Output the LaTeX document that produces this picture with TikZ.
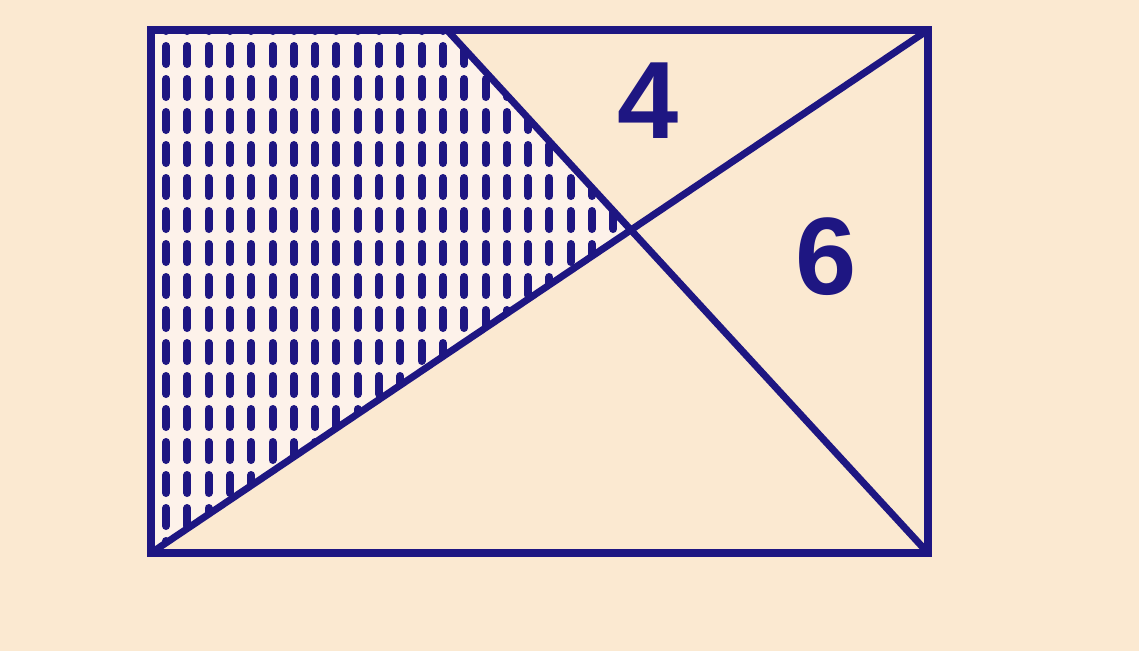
\documentclass[tikz,border=0pt]{standalone}
\usepackage{fontspec}
\setmainfont{Liberation Sans}
\definecolor{bg}{RGB}{251,233,209}
\definecolor{hatchbg}{RGB}{253,242,234}
\definecolor{ink}{RGB}{30,22,130}
\tikzset{
  edge/.style={draw=ink, line width=8pt, line cap=round, line join=miter},
  diag/.style={draw=ink, line width=7pt, line cap=round},
  hatchline/.style={draw=ink, line width=8pt, line cap=round, dash pattern=on 18pt off 15pt},
  numlabel/.style={text=ink, font=\bfseries\fontsize{110}{110}\selectfont, inner sep=0pt}
}
\begin{document}
\begin{tikzpicture}[x=1pt,y=-1pt]
\fill[bg] (0,0) rectangle (1139,651);
\useasboundingbox (0,0) rectangle (1139,651);
\coordinate (TL) at (151,30);
\coordinate (TR) at (928,30);
\coordinate (BR) at (928,553);
\coordinate (BL) at (151,553);
\coordinate (T) at (447,30);
\coordinate (X) at (630.9,230);
% shaded region
\fill[hatchbg] (TL) -- (T) -- (X) -- (BL) -- cycle;
\begin{scope}
  \clip (TL) -- (T) -- (X) -- (BL) -- cycle;
  \foreach \i in {0,...,22} {
    \draw[hatchline] (166+21.3*\i,13) -- (166+21.3*\i,560);
  }
\end{scope}
% lines
\draw[diag] (BL) -- (TR);
\draw[diag] (T) -- (BR);
\draw[edge] (TL) -- (TR) -- (BR) -- (BL) -- cycle;
\node[numlabel] (four) at (648,101) {4};
\node[numlabel] (six) at (826,257) {6};
\end{tikzpicture}
\end{document}
